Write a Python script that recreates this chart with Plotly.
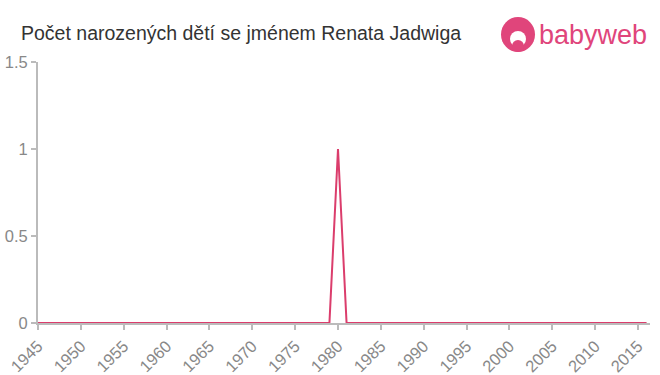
import plotly.graph_objects as go

years = list(range(1945, 2017))
counts = [1 if y == 1980 else 0 for y in years]
tick_vals = list(range(1945, 2016, 5))
y_ticks = [0, 0.5, 1, 1.5]
y_labels = ["0", "0.5", "1", "1.5"]

title_text = "Počet narozených dětí se jménem Renata Jadwiga"
line_color = "#db3d6c"
axis_color = "#bbbbbb"
tick_font_color = "#888888"

L, R, T, B = 38, 10, 62, 52
W, H = 660, 375
pw = W - L - R
ph = H - T - B


def px(x):
    return (x - L) / pw


def py(y):
    return (H - B - y) / ph


fig = go.Figure()
fig.add_trace(go.Scatter(
    x=years, y=counts, mode="lines",
    line=dict(color=line_color, width=2),
    hoverinfo="x+y", showlegend=False,
))

fig.update_layout(
    width=W, height=H,
    margin=dict(l=L, r=R, t=T, b=B, autoexpand=False),
    paper_bgcolor="white", plot_bgcolor="white",
    font=dict(family="Liberation Sans, Arial, sans-serif"),
)

fig.add_annotation(text=title_text, x=px(19), y=py(33), xref="paper", yref="paper",
                   xanchor="left", yanchor="middle", showarrow=False,
                   font=dict(size=19.5, color="#333333"))

# babyweb logo (text + circle)
fig.add_annotation(text="babyweb", x=px(537), y=py(35),
                   xref="paper", yref="paper", xanchor="left", yanchor="middle",
                   showarrow=False, font=dict(size=27, color="#e0457b"))
fig.add_shape(type="circle", xref="paper", yref="paper",
              x0=px(501), x1=px(535), y0=py(52), y1=py(17),
              fillcolor="#e0457b", line=dict(width=0))
fig.add_shape(type="circle", xref="paper", yref="paper",
              x0=px(510), x1=px(526), y0=py(47), y1=py(31),
              fillcolor="white", line=dict(width=0))
fig.add_shape(type="circle", xref="paper", yref="paper",
              x0=px(512), x1=px(524), y0=py(52), y1=py(40),
              fillcolor="#e0457b", line=dict(width=0))

fig.update_xaxes(
    range=[1945, 2016.4], tickvals=tick_vals, tickangle=-45, automargin=False,
    showgrid=False, zeroline=False, showline=True, linecolor=axis_color, linewidth=2,
    ticks="outside", tickcolor=axis_color, ticklen=5, tickwidth=2,
    tickfont=dict(size=16.5, color=tick_font_color),
)
fig.update_yaxes(
    range=[0, 1.5], tickvals=y_ticks, ticktext=y_labels, automargin=False,
    showgrid=False, zeroline=False, showline=True, linecolor=axis_color, linewidth=2,
    ticks="outside", tickcolor=axis_color, ticklen=5, tickwidth=2,
    tickfont=dict(size=16.5, color=tick_font_color),
)

fig.write_html("out.html")
